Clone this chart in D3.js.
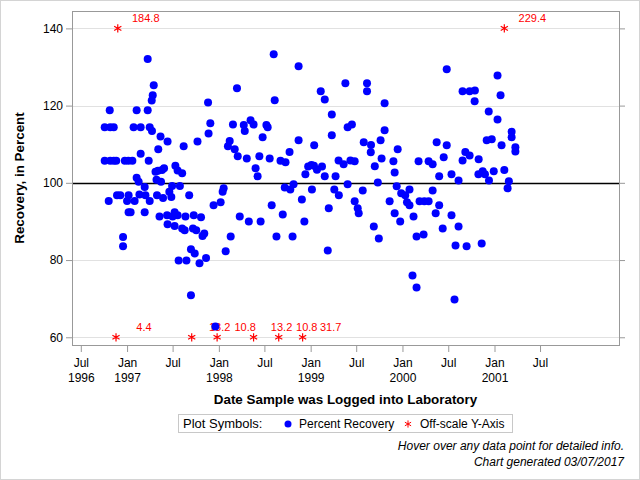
<!DOCTYPE html>
<html>
<head>
<meta charset="utf-8">
<script src="https://cdn.jsdelivr.net/npm/d3@7"></script>
<style>
  body { margin: 0; background: #fff; }
  text { font-family: Arial, "Liberation Sans", sans-serif; }
</style>
</head>
<body>
<svg width="640" height="480"></svg>
<script>
// percent recovery, one pair per sample: [date logged, recovery %]
const recoveryPoints = [
  ["1996-10-04",114.4],["1996-10-04",105.7],["1996-10-20",95.3],["1996-10-24",118.8],["1996-10-26",105.7],
  ["1996-10-26",114.4],["1996-11-09",105.7],["1996-11-09",114.4],["1996-11-19",105.7],["1996-11-22",96.8],
  ["1996-12-05",96.8],["1996-12-16",86.0],["1996-12-16",83.6],["1996-12-23",105.7],
  ["1997-01-01",95.3],["1997-01-06",105.7],["1997-01-07",96.8],["1997-01-07",92.4],["1997-01-15",92.4],
  ["1997-01-22",105.7],["1997-01-27",114.4],["1997-01-31",95.3],["1997-02-08",118.8],["1997-02-08",101.3],
  ["1997-02-16",100.3],["1997-02-19",97.0],["1997-02-24",114.4],["1997-02-24",107.5],["1997-03-12",98.9],
  ["1997-03-12",92.4],["1997-03-15",96.8],["1997-03-24",132.1],["1997-03-24",118.8],["1997-03-28",105.7],
  ["1997-04-01",114.4],["1997-04-01",95.3],["1997-04-09",121.3],["1997-04-10",113.4],["1997-04-13",122.7],
  ["1997-04-17",125.3],["1997-04-24",102.9],["1997-04-28",100.8],["1997-04-30",96.8],["1997-05-04",103.1],
  ["1997-05-05",108.7],["1997-05-10",91.3],["1997-05-14",112.0],["1997-05-16",100.3],["1997-05-20",103.3],
  ["1997-05-24",96.1],["1997-05-28",103.8],["1997-06-09",91.6],["1997-06-11",89.3],["1997-06-11",110.7],
  ["1997-06-18",97.7],["1997-06-26",96.3],["1997-06-29",99.2],["1997-07-01",91.3],["1997-07-09",92.4],
  ["1997-07-09",88.8],["1997-07-12",104.4],["1997-07-21",103.2],["1997-07-21",91.6],["1997-07-25",79.9],
  ["1997-07-30",99.2],["1997-08-08",102.5],["1997-08-08",88.2],["1997-08-14",109.5],["1997-08-18",87.7],
  ["1997-08-21",91.3],["1997-08-25",79.9],["1997-09-05",96.8],["1997-09-12",82.8],["1997-09-12",70.9],
  ["1997-09-20",88.2],["1997-09-23",91.6],["1997-09-27",81.7],["1997-10-03",87.7],["1997-10-08",110.7],
  ["1997-10-16",79.2],["1997-10-22",91.1],["1997-10-28",86.2],["1997-11-04",86.9],["1997-11-11",80.5],
  ["1997-11-19",120.8],["1997-11-21",112.8],["1997-11-28",115.4],["1997-12-11",94.2],["1997-12-18",62.8],
  ["1998-01-08",95.0],["1998-01-16",97.7],["1998-01-20",98.6],["1998-01-28",82.3],["1998-02-06",109.5],
  ["1998-02-13",110.8],["1998-02-17",86.1],["1998-02-26",115.1],["1998-03-05",108.7],["1998-03-14",124.5],
  ["1998-03-17",106.9],["1998-03-25",91.3],["1998-04-10",115.0],["1998-04-14",113.4],["1998-04-22",106.3],
  ["1998-04-30",90.0],["1998-05-07",116.2],["1998-05-19",115.1],["1998-05-27",103.8],["1998-06-04",101.7],
  ["1998-06-11",106.9],["1998-06-16",90.0],["1998-06-24",111.8],["1998-07-09",115.0],["1998-07-14",114.4],
  ["1998-07-22",106.3],["1998-07-30",94.2],["1998-08-07",133.3],["1998-08-11",121.4],["1998-08-18",86.1],
  ["1998-09-03",105.7],["1998-09-12",91.8],["1998-09-20",98.8],["1998-09-23",105.3],["1998-10-09",108.0],
  ["1998-10-12",98.3],["1998-10-21",86.1],["1998-10-25",99.6],["1998-11-14",130.2],["1998-11-14",111.0],
  ["1998-11-27",95.7],["1998-12-07",90.0],["1998-12-11",102.2],["1998-12-22",104.2],
  ["1999-01-04",104.6],["1999-01-06",98.3],["1999-01-14",104.4],["1999-01-15",109.7],["1999-01-26",103.4],
  ["1999-02-10",123.7],["1999-02-15",104.2],["1999-02-26",121.6],["1999-02-26",101.7],["1999-03-10",82.5],
  ["1999-03-14",93.4],["1999-03-26",117.7],["1999-03-26",112.3],["1999-04-05",98.3],["1999-04-10",101.7],
  ["1999-04-22",105.8],["1999-04-23",96.8],["1999-05-12",104.8],["1999-05-19",125.8],["1999-05-28",114.4],
  ["1999-05-28",99.6],["1999-06-08",105.8],["1999-06-14",115.1],["1999-06-25",105.6],["1999-06-25",95.2],
  ["1999-07-07",93.4],["1999-07-11",92.1],["1999-07-27",98.0],["1999-07-31",110.5],["1999-08-13",125.8],
  ["1999-08-13",123.7],["1999-08-28",107.9],["1999-08-29",109.8],["1999-09-09",88.7],["1999-09-13",104.3],
  ["1999-09-25",100.1],["1999-09-29",85.6],["1999-10-06",111.0],["1999-10-10",106.3],["1999-10-22",120.6],
  ["1999-10-22",113.6],["1999-11-11",95.2],["1999-11-26",105.6],["1999-12-01",102.7],["1999-12-01",92.1],
  ["1999-12-09",99.1],["1999-12-13",108.7],["1999-12-23",90.0],["1999-12-27",97.3],
  ["2000-01-12",96.8],["2000-01-19",95.0],["2000-01-29",94.2],["2000-01-29",98.3],["2000-02-10",76.0],
  ["2000-02-14",91.3],["2000-02-26",86.1],["2000-02-26",72.9],["2000-03-05",105.6],["2000-03-09",95.2],
  ["2000-03-25",86.6],["2000-03-28",95.2],["2000-04-14",95.2],["2000-04-14",105.6],["2000-04-30",104.8],
  ["2000-04-30",98.0],["2000-05-12",92.1],["2000-05-16",110.5],["2000-05-26",101.7],["2000-05-26",94.2],
  ["2000-06-09",88.2],["2000-06-13",106.6],["2000-06-25",129.4],["2000-06-25",109.7],["2000-07-14",102.2],
  ["2000-07-14",91.6],["2000-07-26",69.8],["2000-07-30",83.8],["2000-08-11",100.6],["2000-08-11",88.7],
  ["2000-08-27",123.7],["2000-08-27",105.8],["2000-09-07",108.0],["2000-09-12",83.6],["2000-09-24",123.7],
  ["2000-09-24",107.1],["2000-10-14",121.1],["2000-10-15",123.9],["2000-10-29",102.2],["2000-10-30",106.1],
  ["2000-11-11",84.3],["2000-11-15",103.0],["2000-11-24",102.2],["2000-12-01",111.0],["2000-12-09",118.5],
  ["2000-12-10",100.6],["2000-12-21",111.3],["2000-12-29",103.0],
  ["2001-01-13",127.8],["2001-01-13",116.4],["2001-01-25",122.7],["2001-01-29",109.7],["2001-02-09",103.3],
  ["2001-02-22",98.6],["2001-02-27",100.4],["2001-03-10",113.2],["2001-03-10",111.8],["2001-03-25",109.2],
  ["2001-03-25",108.1]
]

// samples outside the axis range, drawn at the axis limit with their value
const offscaleDates = ["1996-11-18","1996-11-25","1997-09-15","1997-12-25","1998-05-19","1998-08-27","1998-11-30","2001-02-09"]
const offscaleValues = [4.4, 184.8, 13.2, 10.8, 13.2, 10.8, 31.7, 229.4]

const yTicks = [60, 80, 100, 120, 140]
const xTickDates = ["1996-07-01","1997-01-01","1997-07-01","1998-01-01","1998-07-01","1999-01-01",
  "1999-07-01","2000-01-01","2000-07-01","2001-01-01","2001-07-01"]
const xDomain = ["1996-05-27", "2002-05-11"]
const yDomain = [58, 144.5]
const targetValue = 100

const parseDate = d3.timeParse('%Y-%m-%d')
const svg = d3.select('svg')
const width = +svg.attr('width')
const height = +svg.attr('height')
const margin = {top: 11, left: 72, bottom: 135, right: 21}
const plotW = width - margin.left - margin.right
const plotH = height - margin.top - margin.bottom
const frameColor = '#999'
const fontFamily = 'Arial, "Liberation Sans", sans-serif'

svg.append('rect').attr('x', 0.5).attr('y', 0.5).attr('width', width - 1).attr('height', height - 1)
  .attr('fill', '#fff').attr('stroke', '#d4d4d4')

const xScale = d3.scaleTime().domain(xDomain.map(parseDate)).range([0, plotW])
const yScale = d3.scaleLinear().domain(yDomain).range([plotH, 0])
const yMin = yTicks[0], yMax = yTicks[yTicks.length - 1]

const g = svg.append('g').attr('transform', `translate(${margin.left},${margin.top})`)

// grid
g.selectAll('.grid').data(yTicks.filter(v => v !== targetValue)).enter()
  .append('line')
  .attr('x1', 0).attr('x2', plotW)
  .attr('y1', d => Math.round(yScale(d)) + 0.5).attr('y2', d => Math.round(yScale(d)) + 0.5)
  .attr('stroke', '#e1e1e1')

g.append('line')
  .attr('x1', 0).attr('x2', plotW)
  .attr('y1', Math.round(yScale(targetValue)) + 0.5).attr('y2', Math.round(yScale(targetValue)) + 0.5)
  .attr('stroke', '#000').attr('stroke-width', 1.3)

// axes
const yAxis = g.append('g').call(d3.axisLeft(yScale).tickValues(yTicks).tickSize(6).tickPadding(3))
yAxis.select('.domain').remove()
yAxis.selectAll('line').attr('stroke', frameColor)
yAxis.selectAll('text').attr('font-size', 12).attr('fill', '#000').attr('font-family', fontFamily)

const yAxisR = g.append('g').attr('transform', `translate(${plotW},0)`)
  .call(d3.axisRight(yScale).tickValues(yTicks).tickSize(6).tickFormat(''))
yAxisR.select('.domain').remove()
yAxisR.selectAll('line').attr('stroke', frameColor)

const fmtMonth = d3.timeFormat('%b')
const fmtYear = d3.timeFormat('%Y')
const xAxis = g.append('g').attr('transform', `translate(0,${plotH})`)
  .call(d3.axisBottom(xScale).tickValues(xTickDates.map(parseDate)).tickSize(7))
xAxis.select('.domain').remove()
xAxis.selectAll('line').attr('stroke', frameColor)
xAxis.selectAll('text')
  .attr('font-size', 12).attr('fill', '#000').attr('font-family', fontFamily)
  .attr('dy', null).attr('y', null)
  .each(function (d, i) {
    const t = d3.select(this).text(null)
    t.append('tspan').attr('x', 0).attr('y', 22).text(fmtMonth(d))
    if (d.getMonth() === 0 || i === 0) t.append('tspan').attr('x', 0).attr('y', 37).text(fmtYear(d))
  })

g.append('rect').attr('x', 0.5).attr('y', 0.5).attr('width', plotW).attr('height', plotH)
  .attr('fill', 'none').attr('stroke', frameColor)

// off-scale markers
const offscale = offscaleDates.map((d, i) => ({date: parseDate(d), value: offscaleValues[i]}))
const offY = d => d.value > yMax ? yMax : yMin
g.selectAll('.off-label').data(offscale).enter()
  .append('text')
  .attr('x', d => xScale(d.date) + 28)
  .attr('y', d => yScale(offY(d)) - 6)
  .attr('text-anchor', 'middle')
  .attr('font-size', 11)
  .attr('fill', '#f00')
  .text(d => d.value)

const asterisk = d3.symbol().type(d3.symbolAsterisk).size(48)
g.selectAll('.off-mark').data(offscale).enter()
  .append('path')
  .attr('d', asterisk)
  .attr('transform', d => `translate(${xScale(d.date)},${yScale(offY(d))})`)
  .attr('fill', 'none').attr('stroke', '#f00').attr('stroke-width', 1.2)

// recovery points
g.selectAll('.pt').data(recoveryPoints).enter()
  .append('circle')
  .attr('cx', d => xScale(parseDate(d[0])))
  .attr('cy', d => yScale(d[1]))
  .attr('r', 4)
  .attr('fill', '#00f')

// axis titles
svg.append('text')
  .attr('x', margin.left + plotW / 2).attr('y', 404)
  .attr('text-anchor', 'middle').attr('font-size', 13.4).attr('font-weight', 'bold')
  .text('Date Sample was Logged into Laboratory')

svg.append('text')
  .attr('transform', `translate(24,${margin.top + plotH / 2}) rotate(-90)`)
  .attr('text-anchor', 'middle').attr('font-size', 13.4).attr('font-weight', 'bold')
  .text('Recovery, in Percent')

// legend
const lg = svg.append('g')
lg.append('rect').attr('x', 178.5).attr('y', 414.5).attr('width', 334).attr('height', 18)
  .attr('fill', 'none').attr('stroke', '#c8c8c8')
lg.append('text').attr('x', 183).attr('y', 428).attr('font-size', 13).text('Plot Symbols:')
lg.append('circle').attr('cx', 288).attr('cy', 424).attr('r', 3.5).attr('fill', '#00f')
lg.append('text').attr('x', 299).attr('y', 428).attr('font-size', 12).text('Percent Recovery')
lg.append('path').attr('d', d3.symbol().type(d3.symbolAsterisk).size(36))
  .attr('transform', 'translate(408,424)').attr('fill', 'none').attr('stroke', '#f00')
lg.append('text').attr('x', 420).attr('y', 428).attr('font-size', 12).text('Off-scale Y-Axis')

// footnotes
svg.append('text').attr('x', 624).attr('y', 450).attr('text-anchor', 'end')
  .attr('font-size', 12).attr('font-style', 'italic')
  .text('Hover over any data point for detailed info.')
svg.append('text').attr('x', 624).attr('y', 466).attr('text-anchor', 'end')
  .attr('font-size', 12).attr('font-style', 'italic')
  .text('Chart generated 03/07/2017')
</script>
</body>
</html>
